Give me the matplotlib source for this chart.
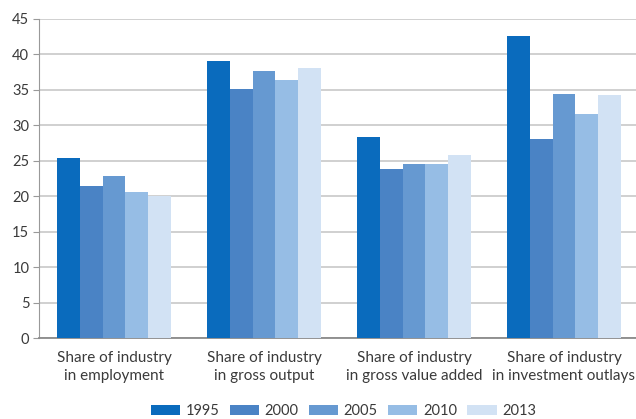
import numpy as np
import matplotlib.pyplot as plt

categories = ['Share of industry\nin employment',
              'Share of industry\nin gross output',
              'Share of industry\nin gross value added',
              'Share of industry\nin investment outlays']
years = ['1995', '2000', '2005', '2010', '2013']
v1995 = [25.4, 39.1, 28.3, 42.6]
v2000 = [21.4, 35.1, 23.9, 28.1]
v2005 = [22.8, 37.6, 24.5, 34.4]
v2010 = [20.6, 36.4, 24.6, 31.6]
v2013 = [20.1, 38.1, 25.8, 34.3]
series = [v1995, v2000, v2005, v2010, v2013]
colors = ['#0a6bbd', '#4a83c5', '#6699d1', '#96bde5', '#d2e2f4']

plt.rcParams['font.family'] = ['Lato', 'DejaVu Sans']
txt = '#3a3a3a'

fig = plt.figure(figsize=(6.36, 4.19), dpi=100)
# axes runs a bit past the right edge, like the original
ax = fig.add_axes([39 / 636, 81 / 419, 600 / 636, 319 / 419])

x = np.arange(len(categories))
w = 0.153
for i, (vals, c) in enumerate(zip(series, colors)):
    ax.bar(x + (i - 2) * w, vals, width=w, color=c, label=years[i], zorder=3)

ax.set_xlim(-0.5, 3.5)
ax.set_ylim(0, 45)
ax.set_yticks(range(0, 46, 5))
ax.yaxis.grid(True, color='#c4c4c4', lw=1.1, zorder=0)
ax.set_xticks(x)
ax.set_xticklabels(categories, fontsize=11, color=txt, linespacing=1.4)
ax.tick_params(axis='x', length=0, pad=9)
ax.tick_params(axis='y', length=4, color='#999999', labelsize=10.5, labelcolor=txt, pad=3)

for s in ['top', 'right']:
    ax.spines[s].set_visible(False)
ax.spines['left'].set_color('#999999')
ax.spines['bottom'].set_color('#8a8a8a')
ax.spines['bottom'].set_linewidth(1.3)

fig.legend(loc='lower center', bbox_to_anchor=(0.54, -0.03), ncol=5, frameon=False,
           fontsize=10.5, labelcolor=txt, handlelength=2.0, handleheight=0.65,
           handletextpad=0.4, columnspacing=0.7)

fig.savefig('out.png', dpi=100)
